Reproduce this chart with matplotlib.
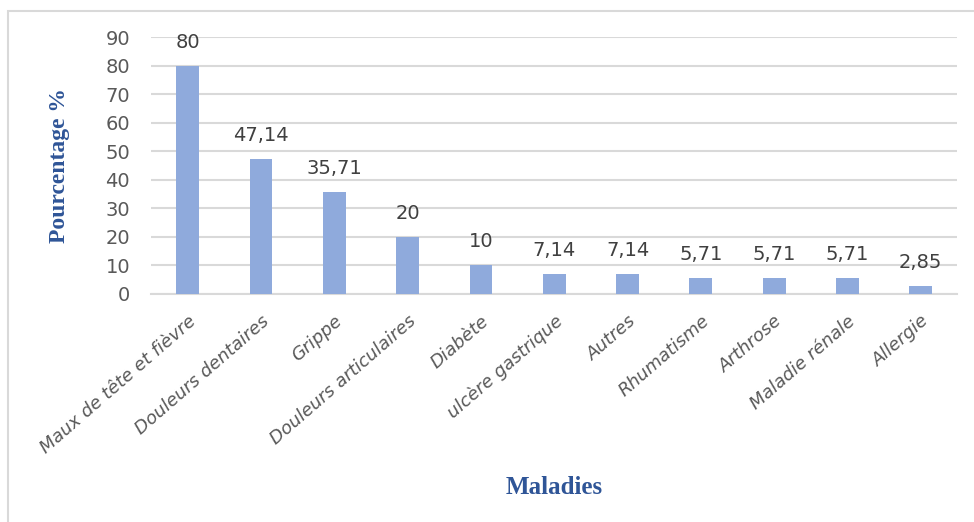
import matplotlib.pyplot as plt
from matplotlib.patches import Rectangle

# ---- data ----
maladies = ["Maux de tête et fièvre", "Douleurs dentaires", "Grippe",
            "Douleurs articulaires", "Diabète", "ulcère gastrique", "Autres",
            "Rhumatisme", "Arthrose", "Maladie rénale", "Allergie"]
pourcentages = [80, 47.14, 35.71, 20, 10, 7.14, 7.14, 5.71, 5.71, 5.71, 2.85]
value_labels = ["80", "47,14", "35,71", "20", "10", "7,14", "7,14",
                "5,71", "5,71", "5,71", "2,85"]
yticks = list(range(0, 100, 10))

bar_color = "#8FAADC"
text_gray = "#595959"
grid_gray = "#D9D9D9"
title_blue = "#2F5597"

fig = plt.figure(figsize=(9.74, 5.22), dpi=100)
ax = fig.add_axes([0.155, 0.437, 0.828, 0.492])

# outer chart border
fig.patches.append(Rectangle((8 / 974, -0.05), 1.0, 1 - 11 / 522 + 0.05,
                             transform=fig.transFigure, fill=False,
                             edgecolor=grid_gray, linewidth=1.5))

x = range(len(maladies))
ax.bar(x, pourcentages, width=0.31, color=bar_color, zorder=3)

for xi, v, lab in zip(x, pourcentages, value_labels):
    ax.annotate(lab, (xi, v), xytext=(0, 10), textcoords="offset points",
                ha="center", va="bottom", fontsize=14, color="#404040",
                family="DejaVu Sans")

ax.set_xlim(-0.5, len(maladies) - 0.5)
ax.set_ylim(0, 90)
ax.set_yticks(yticks)
ax.set_yticklabels([str(t) for t in yticks], fontsize=14, color=text_gray)
ax.yaxis.grid(True, color=grid_gray, linewidth=1.5, zorder=0)
ax.tick_params(axis="y", length=0, pad=15)
ax.tick_params(axis="x", length=0, pad=13)

ax.set_xticks(list(x))
ax.set_xticklabels(maladies, rotation=41, ha="right", va="top",
                   rotation_mode="anchor", fontsize=13, style="italic",
                   color=text_gray)

for s in ["top", "right", "left"]:
    ax.spines[s].set_visible(False)
ax.spines["bottom"].set_color(grid_gray)
ax.spines["bottom"].set_linewidth(1.5)

fig.text(0.061, 0.682, "Pourcentage %", rotation=90, ha="center", va="center",
         fontsize=17, fontweight="bold", color=title_blue,
         family="Liberation Serif")
fig.text(0.569, 0.067, "Maladies", ha="center", va="center",
         fontsize=18, fontweight="bold", color=title_blue,
         family="Liberation Serif")

fig.savefig("out.png", dpi=100)
